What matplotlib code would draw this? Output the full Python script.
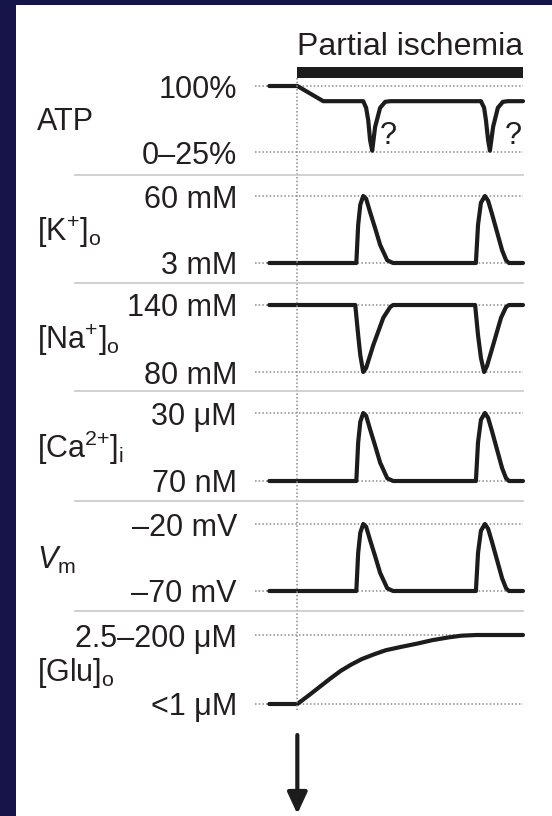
import matplotlib.pyplot as plt
from matplotlib.patches import Rectangle
from matplotlib.lines import Line2D

plt.rcParams['font.family'] = ['Liberation Sans', 'DejaVu Sans']
plt.rcParams['mathtext.fontset'] = 'custom'
plt.rcParams['mathtext.rm'] = 'Liberation Sans'
plt.rcParams['mathtext.it'] = 'Liberation Sans:italic'

# ---- data (time in arbitrary units, 0 = onset of ischemia; level 0 = low, 1 = high)
row_names = ['ATP', r'[K$^{{+}}$]$_{\rm o}$', r'[Na$^{{+}}$]$_{\rm o}$',
             r'[Ca$^{2{+}}$]$_{\rm i}$', r'$\mathit{V}_{\rm m}$', r'[Glu]$_{\rm o}$']
high_labels = ['100%', '60 mM', '140 mM', '30 \u03bcM', '\u201320 mV', '2.5\u2013200 \u03bcM']
low_labels = ['0\u201325%', '3 mM', '80 mM', '70 nM', '\u201370 mV', '<1 \u03bcM']

atp_t = [-1.06, 0, 0.98, 2.49, 2.60, 2.68, 2.75, 2.83, 2.94, 3.13, 3.32, 3.51,
         6.94, 7.06, 7.13, 7.21, 7.28, 7.40, 7.58, 7.77, 7.96, 8.53]
atp_v = [1, 1, 0.77, 0.77, 0.67, 0.48, 0.18, 0.02, 0.38, 0.67, 0.76, 0.77,
         0.77, 0.67, 0.48, 0.18, 0.02, 0.38, 0.67, 0.76, 0.77, 0.77]

spike_t = [-1.06, 2.23, 2.30, 2.38, 2.49, 2.60, 2.75, 2.94, 3.13, 3.40, 3.62,
           6.75, 6.83, 6.94, 7.09, 7.21, 7.36, 7.55, 7.74, 7.89, 8.00, 8.53]
spike_v = [0, 0, 0.57, 0.87, 1.0, 0.96, 0.76, 0.52, 0.27, 0.04, 0,
           0, 0.57, 0.90, 1.0, 0.93, 0.73, 0.46, 0.19, 0.04, 0, 0]

na_t = [-1.06, 2.19, 2.30, 2.38, 2.49, 2.60, 2.87, 3.25, 3.51, 3.62,
        6.72, 6.83, 6.94, 7.06, 7.17, 7.40, 7.70, 7.89, 8.00, 8.53]
na_v = [1, 1, 0.55, 0.25, 0, 0.06, 0.40, 0.81, 0.97, 1,
        1, 0.55, 0.21, 0, 0.09, 0.40, 0.81, 0.97, 1, 1]

glu_t = [-1.06, 0, 0.45, 0.85, 1.25, 1.64, 2.03, 2.43, 2.90, 3.35, 3.95,
         4.53, 5.10, 5.71, 6.20, 6.76, 8.53]
glu_v = [0, 0, 0.13, 0.25, 0.37, 0.48, 0.57, 0.65, 0.72, 0.78, 0.83,
         0.875, 0.925, 0.965, 0.99, 1.0, 1.0]

traces = [(atp_t, atp_v), (spike_t, spike_v), (na_t, na_v),
          (spike_t, spike_v), (spike_t, spike_v), (glu_t, glu_v)]

qmark_t = [3.44, 8.16]
qmark_v = [0.24, 0.24]
ischemia = (0.0, 8.53)

# ---- layout (pixels)
W, H = 552, 816
tops = [86, 196, 305, 413, 524, 635]
bottoms = [152, 263, 372, 481, 591, 704]
seps = [175, 283, 391, 501, 611]
x0, x1 = 255, 523
tmin, tmax = -1.6, 8.53
ink = '#1c1c1c'
txt = '#231f20'
navy = '#15154a'
fs = 22


def box(xa, ya, xb, yb):
    return [xa / W, 1 - yb / H, (xb - xa) / W, (yb - ya) / H]


fig = plt.figure(figsize=(W / 100, H / 100), dpi=100)
fig.patch.set_facecolor('white')

pad = 10
for i in range(6):
    span = bottoms[i] - tops[i]
    ax = fig.add_axes(box(x0, tops[i] - pad, x1, bottoms[i] + pad))
    ax.set_xlim(tmin, tmax)
    ax.set_ylim(-pad / span, 1 + pad / span)
    ax.patch.set_alpha(0)
    for s in ax.spines.values():
        s.set_visible(False)
    ax.set_xticks([])
    ax.set_yticks([0, 1])
    ax.set_yticklabels([low_labels[i], high_labels[i]], color=txt)
    ax.tick_params(axis='y', length=0, pad=13, labelsize=fs)
    ax.yaxis.grid(True, color='#8c8c8c', lw=1.1, ls=(0, (1, 1.4)))
    t, v = traces[i]
    ax.plot(t, v, color=ink, lw=3, solid_capstyle='round',
            solid_joinstyle='round', clip_on=False, zorder=3)
    if i == 0:
        for qt, qv in zip(qmark_t, qmark_v):
            ax.text(qt, qv, '?', fontsize=fs, color=txt, ha='center', va='center')
    mid = (tops[i] + bottoms[i]) / 2
    fig.text(37 / W, 1 - (mid + 11) / H, row_names[i], fontsize=fs,
             color=txt, va='baseline', ha='left')

# overlay: title, bar, onset line, arrow
ov = fig.add_axes(box(x0, 0, x1, H))
ov.set_xlim(tmin, tmax)
ov.set_ylim(H, 0)
ov.axis('off')
ov.patch.set_alpha(0)
ov.text(ischemia[0], 55, 'Partial ischemia', fontsize=fs + 1, color=txt,
        ha='left', va='baseline')
ov.fill_between(list(ischemia), 67, 78, color=ink, lw=0)
ov.vlines(0, 78, 710, color='#8c8c8c', lw=1.1, ls=(0, (1, 1.4)))
ov.annotate('', xy=(0, 814), xytext=(0, 735),
            arrowprops=dict(arrowstyle='-|>,head_length=0.65,head_width=0.3',
                            lw=3, color=ink, mutation_scale=20,
                            shrinkA=0, shrinkB=0))

for y in seps:
    fig.add_artist(Line2D([75 / W, 523 / W], [1 - y / H] * 2,
                          color='#c8c8c8', lw=1.2))

fig.add_artist(Rectangle((0, 0), 15.5 / W, 1, transform=fig.transFigure,
                         color=navy, lw=0))
fig.add_artist(Rectangle((0, 1 - 4.5 / H), 1, 4.5 / H,
                         transform=fig.transFigure, color=navy, lw=0))

fig.savefig('out.png', dpi=100, facecolor='white')
